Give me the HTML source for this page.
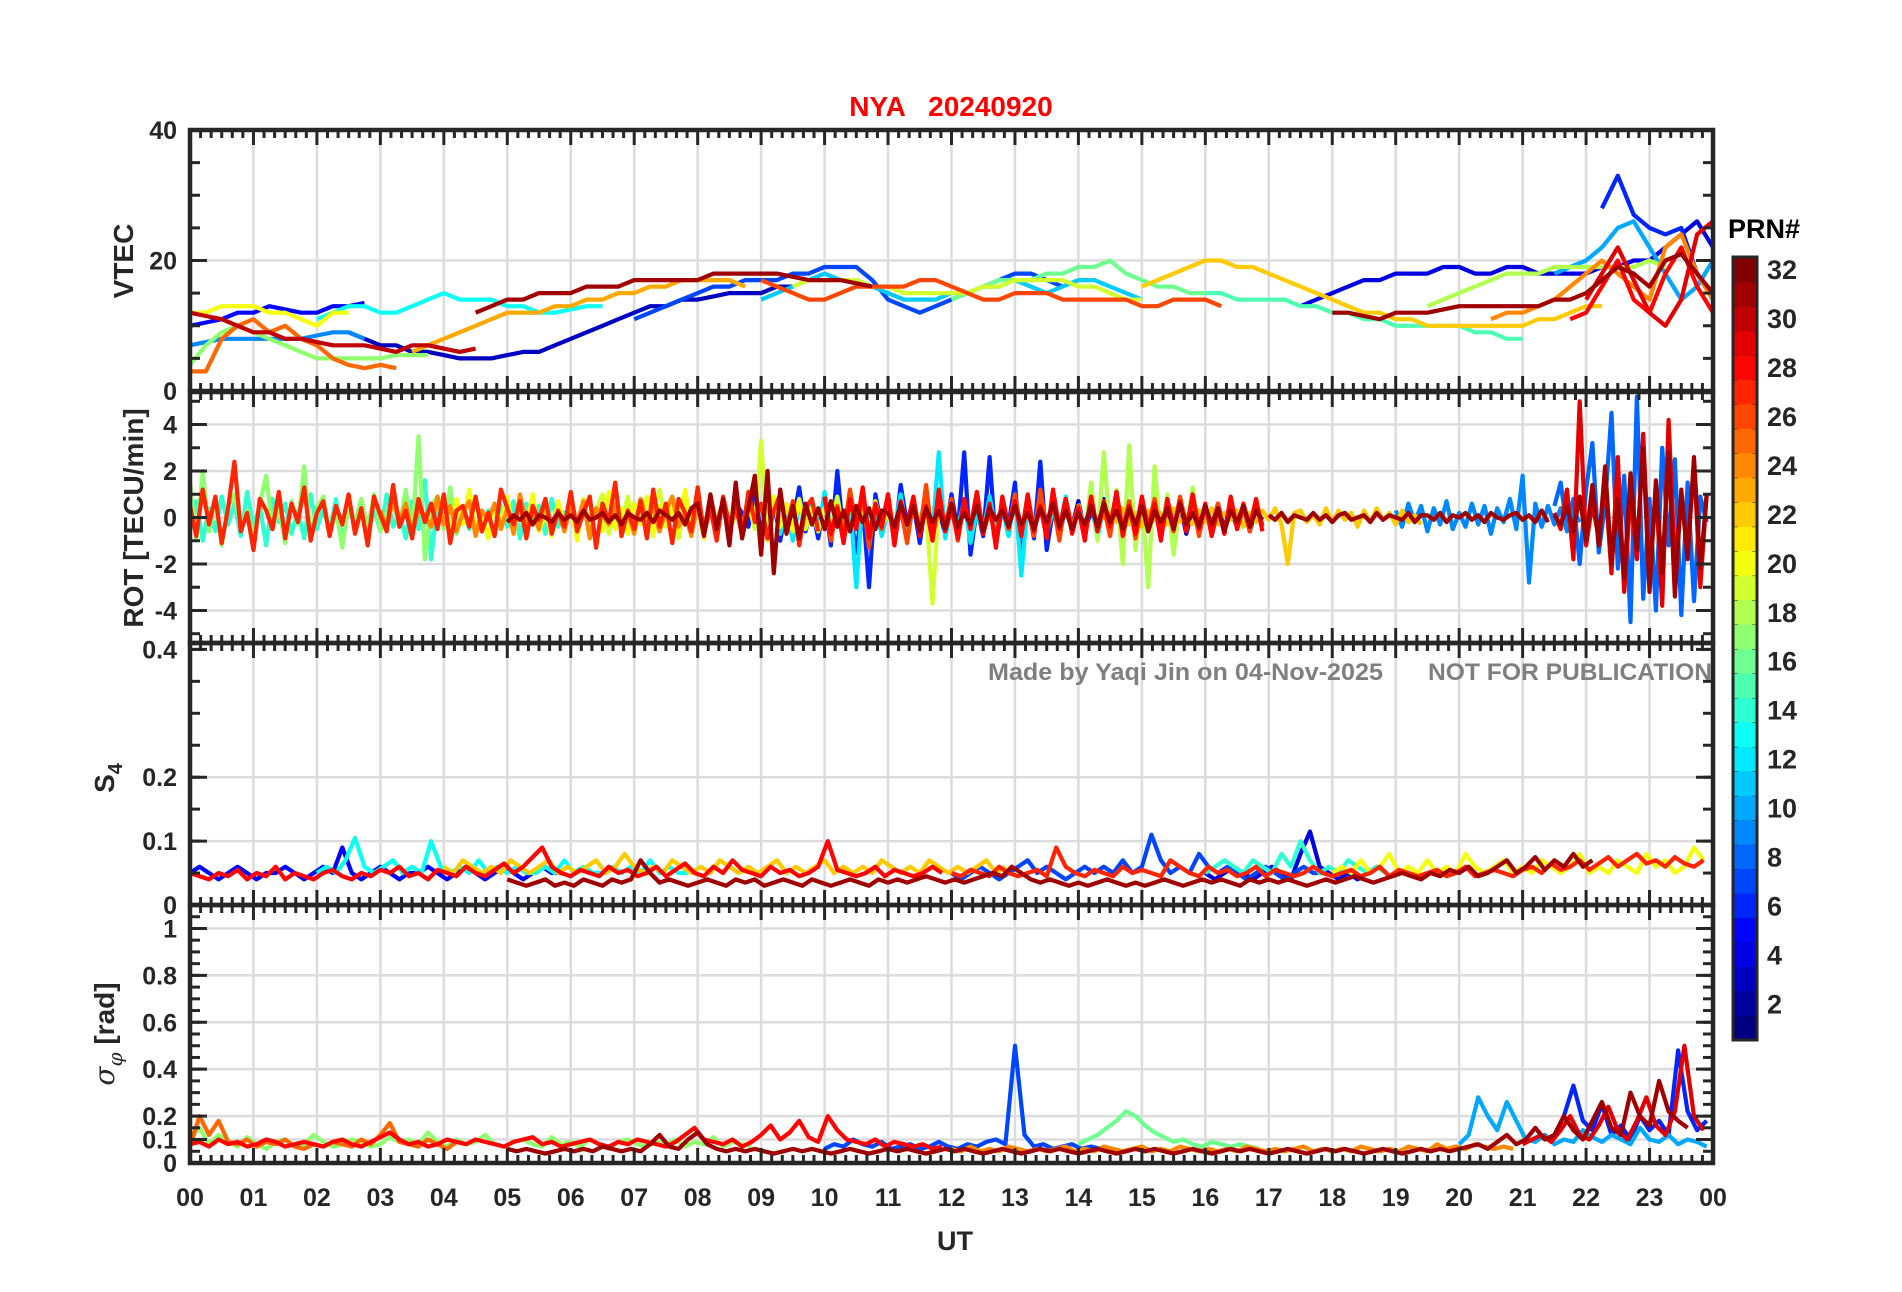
<!DOCTYPE html>
<html><head><meta charset="utf-8"><style>
html,body{margin:0;padding:0;background:#fff;}
svg{display:block;font-family:"Liberation Sans",sans-serif;}
</style></head><body>
<svg id="chart" width="1902" height="1292" viewBox="0 0 1902 1292" xmlns="http://www.w3.org/2000/svg">
<text x="951" y="116" text-anchor="middle" font-size="28" font-weight="bold" fill="#ff0000" xml:space="preserve">NYA   20240920</text>
<g id="layers"></g>
<text x="988" y="680" font-size="24" font-weight="bold" fill="#7f7f7f" textLength="395" lengthAdjust="spacingAndGlyphs">Made by Yaqi Jin on 04-Nov-2025</text>
<text x="1428" y="680" font-size="24" font-weight="bold" fill="#7f7f7f" textLength="284" lengthAdjust="spacingAndGlyphs">NOT FOR PUBLICATION</text>
</svg>
<script>
// ---- time axis ----
const hourLabels = ["00","01","02","03","04","05","06","07","08","09","10","11","12","13","14","15","16","17","18","19","20","21","22","23","00"];
const prnTicks = [2,4,6,8,10,12,14,16,18,20,22,24,26,28,30,32];
// ---- VTEC (step 0.25 h) ----
const vtecPrn = [30,17,5,9,20,25,13,3,23,31,7,11,19,16,26,22,15,4,18,31,10,6,28,29,24];
const vtecStart = [0,0,0,0,0,0,2,2.5,3.5,4.5,7,9,9.5,12,9,15,16,17.5,19.5,18,21.5,22.25,21.75,22,20.5];
const vtecVals = [
[12,11.5,11,10,9,9,8,8,7.5,7,7,7,6.5,6,7,7,6.5,6,6.5],
[4,7,9,10,9,8,7,6,5,5,5,5,5,5.5,5.5,5.5],
[10,10.5,11,12,12,13,12.5,12,12,13,13,13.5],
[7,7.5,8,8,8,8,8,8,8.5,9,9,8],
[12,12,13,13,13,12,12,11,10,12,12],
[3,3,8,10,11,9,10,8,7,5,4,3.5,4,3.5],
[11,12,13,13,12,12,13,14,15,14,14,14,13,13,12,12,12.5,13,13],
[9,8,7,7,6,6,5.5,5,5,5,5.5,6,6,7,8,9,10,11,12,13,13,14,14,14.5,15,15,15,16,16],
[6,7,8,9,10,11,12,12,12,13,13,14,14,15,15,16,16,17,17,17,17,16],
[12,13,14,14,15,15,15,16,16,16,17,17,17,17,17,18,18,18,18,18,17.5,17,17,17,16.5,16],
[11,12,13,14,15,16,16,17,17,17,18,18,19,19,19,17,14,13,12,13,14,15,16,17,18,18,17,16],
[14,15,16,17,18,17,17,16,15,14,14,14,15,15,16,16,17,16,15,16,17,17,16,15,14],
[16,17,17,17,17,16,16,15,15,15,15,15,16,16,17,17,17,17,16,16,15,14,14],
[14,15,16,17,17,17,18,18,19,19,20,18,17,16,16,15,15],
[17,16,15,14,14,15,16,16,16,16,17,17,16,15,14,14,15,15,15,14,14,14,14,14,13,13,14,14,14,13],
[16,17,18,19,20,20,19,19,18,17,16,15,14,13,12,12,11,11,10,10,10,10,10,10,10,11,11,12,13,13],
[15,15,14,14,14,14,13,13,12,12,11,11,10,10,10,10,10,9,9,8,8],
[13,14,15,16,17,17,18,18,18,19,19,18,18,19,19,18,18,18,18,19,19,20,20,22,24,26,22,20],
[13,14,15,16,17,18,18,18,19,19,19,19,19,19,20,19],
[12,12,11.5,11,12,12,12,12.5,13,13,13,13,13,13,14,14,15,17,19,18,16,20,21,18,15,13,12,12.5,13,13,12,11,12],
[18,19,20,22,25,26,22,18,14,16,20,26,30,28,20,18],
[28,33,27,25,24,25,18,14],
[11,12,16,20,14,12,18,22,16,12,11,14,12],
[14,18,22,17,12,10,14,24,26,16,12,10,13],
[11,12,12,13,14,16,18,20,18,16,14,22,24,18,14,12,10,9]
];
// ---- ROT (step 0.1 h) ----
const rotPrn = [17,19,24,6,12,18,9,22,26,27,31,31,8,29,31,20,14,28,3];
const rotStart = [0,6,3,8,9,14,19,14.5,10,0,5,17,21.5,21.5,21.5,4,0,10,13];
const rotVals = [
[1.5,-1.0,2.0,-0.6,0.8,-1.2,0.5,1.0,-0.4,0.3,-0.9,0.6,1.8,-0.5,0.4,-1.1,0.7,-0.3,2.2,-0.8,0.4,0.9,-0.7,0.3,-1.3,0.6,-0.2,0.8,-0.5,1.0,-0.6,0.2,0.7,-0.4,1.2,-0.9,3.5,-1.8,0.5,0.9,-0.5,1.3,-0.7,0.4,-0.3],
[0.5,-0.4,0.8,-0.6,0.3,1.0,-0.7,0.4,-0.2,0.9,-0.5,0.6,-0.8,0.3,1.2,-0.4,0.5,-0.9,0.7,-0.3,0.4,-0.6,0.9,-0.2,0.5,-0.7,0.3,-0.4,0.6,-0.5,3.3,-1.0,0.5,-0.3,0.6,-0.4,0.8,-0.5,0.2,-0.6,0.4,-0.3,0.9,-0.7,0.5,-0.2,0.3,-0.5,0.7,-0.4,0.2,-0.6,0.5,-0.3,0.8,-0.5,0.4,-3.7,0.6,-0.2],
[0.3,-0.5,0.8,-0.2,0.6,-0.7,0.4,0.1,-0.4,0.9,-0.3,0.5,-0.6,0.2,0.7,-0.8,0.3,-0.1,0.6,-0.5,0.4,-0.7,1.0,-0.3,0.2,-0.5,0.8,-0.4,0.3,-0.6,0.5,-0.2,0.7,-0.9,0.4,0.1,-0.3,0.6,-0.5,0.2,-0.7,0.8,-0.1,0.4,-0.6,0.3,0.9,-0.4,0.2,-0.8,0.6,-0.3,0.5,-0.2,0.7,-0.6,0.3,-0.4,0.8,-0.1],
[0.4,-0.6,0.9,-0.3,0.5,-0.8,0.6,0.2,-0.4,1.1,-0.7,0.3,0.8,-1.0,0.5,-0.2,1.3,-0.6,0.4,-0.9,0.7,-1.2,2.0,-0.8,0.3,-1.5,0.6,-3.0,1.0,-0.4,0.5,-0.9,1.4,-0.3,0.6,-1.1,0.8,-0.5,0.3,-0.7,1.0,-0.6,2.8,-1.6,0.4,-0.8,2.6,-1.2,0.5,-0.3,1.5,-2.0,0.6,-0.9,2.4,-1.4,0.3,-0.6,0.8,-0.5],
[0.6,-0.4,0.9,-0.7,0.3,-1.0,0.5,-0.3,0.8,-0.6,1.1,-0.5,0.4,-0.9,0.7,-3.0,0.9,-0.4,0.6,-0.8,0.3,-0.5,1.0,-0.7,0.4,-0.3,0.8,-0.6,2.8,-0.9,0.5,-0.4,0.7,-1.1,0.3,-0.6,0.9,-0.5,0.4,-0.8,1.0,-2.5,0.6,-0.4,0.8,-0.7,0.3,-0.5,0.9,-0.6,0.4,-0.3,0.7,-0.9,0.5,-0.4,0.6,-0.8,0.3,-0.5,0.8,-0.6,0.4,-0.7,0.5,-0.3,0.6,-0.4,0.3,-0.5],
[0.6,-0.8,1.5,-1.0,2.8,-0.6,1.2,-2.0,3.1,-1.4,0.8,-3.0,2.2,-0.9,1.0,-1.6,0.7,-0.5,1.3,-0.8],
[0.3,-0.4,0.6,-0.2,0.5,-0.6,0.4,-0.3,0.7,-0.5,0.2,-0.4,0.6,-0.3,0.5,-0.7,0.4,-0.2,0.8,-0.5,1.8,-2.8,0.6,-0.4,0.5,-0.3,0.4,-0.6,0.3,-0.2],
[0.3,-0.2,0.4,-0.3,0.2,-0.4,0.3,-0.1,0.2,-0.3,0.4,-0.2,0.1,-0.3,0.3,-0.2,0.4,-0.3,0.2,-0.1,0.3,-0.4,0.2,-0.2,0.3,-0.1,0.4,-0.3,-2.0,0.2,0.3,-0.2,0.1,-0.3,0.4,-0.2,0.3,-0.1,0.2,-0.4,0.3,-0.2,0.4,-0.1,0.2,-0.3,0.3,-0.2,0.1,-0.3],
[0.8,-1.0,0.5,-0.7,1.2,-0.4,0.9,-1.3,0.6,-0.5,1.0,-0.8,0.4,-1.1,0.7,-0.6,1.4,-0.9,0.5,-0.3,0.8,-1.0,0.6,-0.4,1.1,-0.7,0.3,-0.9,0.7,-0.5,1.0,-0.6,0.4,-0.8,1.2,-0.5,0.6,-1.0,0.8,-0.4,0.5,-0.7,0.9,-0.6,0.4,-0.8,1.1,-0.5,0.7,-0.9,0.6,-0.4,0.8,-0.7,0.5,-0.6,0.9,-0.3,0.7,-0.8,0.5,-0.4,0.6,-0.7,0.8,-0.5,0.4,-0.6,0.7,-0.4],
[0.5,-0.8,1.2,-0.3,0.9,-1.1,0.4,2.4,-0.6,0.2,-1.4,0.8,0.3,-0.5,1.1,-0.9,0.6,-0.2,1.3,-1.0,0.2,0.7,-0.8,0.5,-0.3,1.0,-0.7,0.4,-1.2,0.9,0.1,-0.6,1.4,-0.4,0.3,-0.9,0.8,-0.2,0.6,-0.5,1.0,-1.1,0.3,0.5,-0.4,0.9,-0.6,0.2,-0.8,1.2,0.4,-0.3,0.7,-0.9,0.5,-0.1,0.8,-0.7,0.3,-0.4,1.1,-0.6,0.2,0.9,-1.3,0.6,-0.2,1.5,-0.8,0.3,-0.5,0.7,-0.9,1.2,-0.4,0.6,-1.1,0.8,0.2,-0.6,1.3,-0.7,0.4,-1.0,0.9,-0.3,0.5,-0.8,1.1,-0.2,0.6,-0.9,0.3,1.0,-0.5,0.7,-1.2,0.4,0.8,-0.6],
[-0.2,0.1,-0.1,0.2,-0.3,0.1,0.0,-0.2,0.2,-0.1,0.1,-0.2,0.3,-0.1,0.0,0.2,-0.2,0.1,-0.3,0.2,0.0,-0.1,0.2,-0.2,0.3,0.1,-0.1,0.2,-0.3,0.4,0.6,-0.8,1.0,-0.5,0.8,-1.2,1.5,-0.9,0.4,1.8,-1.6,2.0,-2.4,1.2,-0.7,0.5,-0.9,0.6,-0.3,0.4,-0.5,0.7,-0.4,0.3,-0.6,0.5,-0.2,0.4,-0.5,0.3,0.2,-0.4,0.6,-0.3,0.5,-0.6,0.4,-0.2,0.3,-0.5,0.6,-0.4,0.2,-0.3,0.5,-0.6,0.4,-0.1,0.3,-0.4,0.5,-0.3,0.2,-0.5,0.4,-0.2,0.6,-0.4,0.3,-0.5,0.2,-0.3,0.5,-0.4,0.6,-0.2,0.3,-0.5,0.4,-0.3,0.5,-0.6,0.3,-0.2,0.4,-0.5,0.6,-0.3,0.2,-0.4,0.5,-0.3,0.4,-0.6,0.3,-0.2,0.5,-0.4,0.3,-0.1],
[0.1,-0.1,0.2,-0.2,0.1,0.0,-0.1,0.2,-0.1,0.1,-0.2,0.1,0.2,-0.1,0.0,0.1,-0.2,0.2,-0.1,0.1,0.0,-0.1,0.2,-0.2,0.1,0.1,-0.1,0.2,-0.2,0.1,0.0,0.2,-0.1,0.1,-0.2,0.2,0.0,-0.1,0.1,0.2,-0.1,0.1,-0.2,0.3,-0.2],
[0.5,1.5,-0.5,0.8,-2.0,1.2,3.2,-1.5,0.6,4.5,-2.2,1.8,-4.5,5.2,-3.5,0.8,-4.0,3.0,-1.2,2.5,-4.2,1.5,-3.6,0.9,-0.2],
[0.2,-0.5,1.2,-1.8,5.0,-1.2,0.6,-0.9,1.5,-2.4,2.6,-3.2,1.0,-1.8,3.6,-2.6,1.3,-3.8,4.2,-2.0,0.8,-1.5,2.4,-3.0,1.0],
[0.1,-0.3,0.5,-0.6,0.9,-1.0,1.4,-1.2,2.2,-2.0,0.8,-2.6,1.9,-1.4,3.0,-3.2,1.6,-2.4,2.8,-3.4,1.2,-1.8,2.6,-2.2,1.0],
[0.4,-0.6,0.8,-0.3,1.2,-0.5,0.3,-0.9,0.6,-0.2,0.9,-0.7,0.5,-0.4,1.0,-0.6,0.2,-0.8,0.7,-0.3,0.5,-1.0,0.8,-0.4,0.3,-0.6,1.1,-0.5,0.4,-0.7,0.6,-0.3,0.9,-0.8,0.5,-0.2,0.7,-0.6,1.2,-0.4,0.3,-0.9,0.8,-0.5,0.6,-0.3,1.0,-0.7,0.4,-0.2,0.6,-0.8,0.9,-0.4,0.5,-0.6,0.7,-0.3,0.4,-0.5],
[-0.5,0.7,-1.0,0.4,-0.6,0.9,-0.3,0.6,-0.8,1.1,-0.4,0.5,-1.2,0.8,-0.2,0.6,-0.7,0.3,-0.9,1.0,-0.5,0.4,-0.6,0.8,-1.1,0.5,-0.3,0.7,-0.8,0.4,-0.6,1.0,-0.4,0.2,-0.9,0.7,-0.5,1.6,-1.8,0.6,-0.3,0.8,-0.7,0.4,-0.5,0.9,-0.6,0.3,-0.8,0.5,-0.4,0.7,-0.9,0.6,-0.2,0.5,-0.7,0.8,-0.4,0.3],
[0.9,-0.7,0.4,-1.1,0.8,-0.5,1.3,-0.9,0.6,-0.4,1.0,-1.2,0.7,-0.3,0.9,-0.8,0.5,-1.0,1.2,-0.6,0.4,-0.9,0.8,-0.5,1.1,-0.7,0.6,-1.3,0.9,-0.4,0.7,-0.8,1.0,-0.6,0.5,-0.9,1.2,-0.5,0.8,-0.7,0.4,-1.0,0.9,-0.6,0.7,-0.4,1.1,-0.8,0.5,-0.7,0.9,-0.5,0.6,-1.0,0.8,-0.4,0.7,-0.6,1.0,-0.5,0.6,-0.8,0.4,-0.7,0.9,-0.5,0.6,-0.4,0.8,-0.6],
[0.5,-0.7,0.4,-0.6,0.9,-0.3,0.6,-0.8,0.5,-0.4,0.7,-0.6,0.3,-0.5,0.8,-0.4,0.6,-0.7,0.4,-0.3,0.5,-0.6,0.7,-0.4,0.3,-0.5,0.6,-0.7,0.4,-0.3,0.5,-0.4,0.6,-0.5,0.3,-0.4,0.5,-0.6,0.4,-0.3]
];
// ---- S4 (step 0.15 h) ----
const s4Prn = [5,13,20,14,4,7,22,28,27,31];
const s4Start = [0,2,18,16,16,12,4,0,12,5];
const s4Vals = [
[0.05,0.06,0.05,0.04,0.05,0.06,0.05,0.04,0.05,0.05,0.06,0.05,0.04,0.05,0.06,0.05,0.09,0.05,0.04,0.05,0.06,0.05,0.04,0.05,0.05,0.06,0.05,0.04,0.05,0.06,0.05,0.04,0.05,0.06,0.05,0.04,0.05,0.06,0.05,0.05],
[0.05,0.06,0.05,0.07,0.105,0.06,0.05,0.06,0.07,0.05,0.06,0.05,0.1,0.06,0.05,0.06,0.05,0.07,0.05,0.06,0.05,0.06,0.05,0.05,0.06,0.05,0.07,0.05,0.06,0.05,0.05,0.06,0.05,0.06,0.05,0.07,0.05,0.06,0.05,0.05],
[0.05,0.06,0.05,0.07,0.05,0.06,0.08,0.05,0.06,0.05,0.07,0.05,0.06,0.05,0.08,0.06,0.05,0.06,0.07,0.05,0.06,0.05,0.07,0.06,0.05,0.06,0.08,0.05,0.06,0.05,0.07,0.06,0.05,0.08,0.06,0.07,0.05,0.06,0.09,0.07],
[0.05,0.06,0.07,0.06,0.05,0.07,0.06,0.05,0.08,0.06,0.1,0.07,0.05,0.06,0.05,0.07,0.06,0.05,0.06,0.05],
[0.05,0.04,0.05,0.06,0.05,0.04,0.05,0.06,0.05,0.04,0.08,0.115,0.06,0.05,0.04,0.05,0.04,0.05,0.06,0.05],
[0.05,0.04,0.05,0.06,0.05,0.04,0.05,0.06,0.07,0.05,0.06,0.05,0.04,0.05,0.06,0.05,0.06,0.05,0.07,0.05,0.06,0.11,0.07,0.05,0.06,0.05,0.08,0.06,0.05,0.06,0.05,0.04,0.05,0.06,0.05,0.04,0.05,0.06,0.05,0.05],
[0.06,0.05,0.07,0.06,0.05,0.06,0.05,0.07,0.06,0.05,0.06,0.07,0.05,0.06,0.05,0.06,0.07,0.05,0.06,0.08,0.06,0.05,0.06,0.05,0.07,0.06,0.05,0.06,0.05,0.07,0.06,0.05,0.06,0.05,0.06,0.07,0.05,0.06,0.05,0.06,0.07,0.05,0.06,0.05,0.06,0.05,0.07,0.06,0.05,0.06,0.05,0.07,0.06,0.05,0.06,0.05,0.06,0.07,0.05,0.06],
[0.05,0.045,0.04,0.05,0.045,0.055,0.04,0.05,0.045,0.06,0.04,0.05,0.045,0.04,0.05,0.055,0.045,0.04,0.05,0.045,0.055,0.05,0.06,0.045,0.05,0.04,0.055,0.05,0.045,0.06,0.05,0.045,0.055,0.065,0.05,0.06,0.075,0.09,0.06,0.05,0.045,0.055,0.05,0.045,0.06,0.05,0.055,0.045,0.05,0.06,0.045,0.055,0.065,0.05,0.045,0.06,0.05,0.07,0.055,0.05,0.045,0.06,0.05,0.055,0.045,0.05,0.06,0.1,0.055,0.05,0.045,0.05,0.06,0.045,0.055,0.05,0.045,0.05,0.06,0.05],
[0.05,0.045,0.055,0.05,0.045,0.06,0.05,0.045,0.05,0.055,0.045,0.09,0.06,0.05,0.045,0.055,0.05,0.045,0.06,0.05,0.055,0.05,0.045,0.07,0.06,0.05,0.045,0.06,0.05,0.055,0.045,0.05,0.06,0.045,0.055,0.05,0.045,0.05,0.06,0.05,0.045,0.05,0.055,0.045,0.05,0.06,0.045,0.055,0.05,0.045,0.05,0.055,0.045,0.05,0.06,0.045,0.05,0.055,0.05,0.045,0.055,0.06,0.05,0.065,0.055,0.06,0.07,0.055,0.065,0.075,0.06,0.07,0.08,0.065,0.07,0.06,0.075,0.065,0.06,0.07],
[0.04,0.035,0.03,0.035,0.04,0.03,0.035,0.03,0.04,0.035,0.03,0.04,0.035,0.04,0.07,0.05,0.035,0.04,0.035,0.03,0.035,0.04,0.035,0.03,0.04,0.035,0.04,0.03,0.035,0.04,0.035,0.03,0.04,0.035,0.03,0.035,0.04,0.035,0.03,0.04,0.035,0.04,0.035,0.04,0.045,0.04,0.035,0.04,0.035,0.04,0.045,0.05,0.045,0.06,0.05,0.04,0.035,0.04,0.035,0.03,0.035,0.03,0.035,0.04,0.035,0.03,0.035,0.03,0.035,0.04,0.035,0.03,0.035,0.04,0.035,0.04,0.035,0.03,0.04,0.035,0.04,0.035,0.04,0.035,0.03,0.035,0.04,0.035,0.04,0.045,0.04,0.035,0.04,0.045,0.05,0.045,0.04,0.05,0.045,0.055,0.05,0.06,0.045,0.05,0.06,0.07,0.05,0.06,0.075,0.055,0.07,0.06,0.08,0.06,0.07]
];
// ---- sigma phi (step 0.15 h) ----
const sigPrn = [17,25,7,16,10,6,24,28,29,31];
const sigStart = [0,0,10,14,20,21.5,12,0,21,5];
const sigVals = [
[0.1,0.15,0.08,0.12,0.09,0.07,0.11,0.08,0.06,0.09,0.1,0.07,0.08,0.12,0.09,0.07,0.08,0.1,0.09,0.07,0.08,0.11,0.09,0.1,0.08,0.13,0.09,0.07,0.1,0.08,0.09,0.12,0.08,0.07,0.09,0.1,0.08,0.07,0.11,0.08,0.09,0.07,0.1,0.08,0.06,0.09,0.1,0.08,0.07,0.09,0.08,0.1,0.07,0.09,0.08,0.11,0.07,0.09,0.08,0.07],
[0.07,0.2,0.12,0.18,0.09,0.08,0.1,0.07,0.09,0.08,0.1,0.07,0.06,0.08,0.07,0.09,0.08,0.07,0.1,0.08,0.12,0.17,0.09,0.08,0.07,0.1,0.08,0.06,0.09,0.08],
[0.06,0.08,0.07,0.1,0.08,0.07,0.09,0.06,0.07,0.08,0.06,0.07,0.09,0.07,0.06,0.08,0.07,0.09,0.1,0.08,0.5,0.12,0.07,0.08,0.06,0.07,0.08,0.06,0.07,0.06],
[0.08,0.1,0.12,0.15,0.18,0.22,0.2,0.16,0.13,0.11,0.09,0.1,0.08,0.07,0.09,0.08,0.07,0.08,0.07,0.06],
[0.08,0.12,0.28,0.2,0.14,0.26,0.18,0.1,0.09,0.12,0.08,0.1,0.09,0.14,0.11,0.09,0.12,0.1,0.08,0.15,0.1,0.09,0.12,0.08,0.1,0.09,0.07],
[0.12,0.2,0.33,0.18,0.14,0.25,0.12,0.16,0.1,0.2,0.14,0.18,0.12,0.48,0.22,0.14,0.18],
[0.06,0.05,0.07,0.05,0.06,0.05,0.07,0.06,0.05,0.06,0.05,0.06,0.07,0.05,0.06,0.05,0.07,0.06,0.05,0.06,0.07,0.05,0.06,0.05,0.07,0.06,0.05,0.06,0.05,0.06,0.05,0.07,0.06,0.05,0.06,0.05,0.06,0.07,0.05,0.06,0.05,0.06,0.05,0.07,0.06,0.05,0.06,0.05,0.07,0.06,0.05,0.08,0.06,0.07,0.06,0.08,0.07,0.06,0.07,0.06],
[0.08,0.09,0.07,0.1,0.08,0.09,0.07,0.08,0.1,0.09,0.07,0.08,0.09,0.08,0.07,0.09,0.1,0.08,0.07,0.09,0.11,0.13,0.1,0.08,0.09,0.07,0.08,0.1,0.09,0.08,0.1,0.09,0.08,0.07,0.09,0.1,0.11,0.08,0.09,0.07,0.08,0.09,0.1,0.08,0.07,0.09,0.08,0.1,0.09,0.08,0.07,0.09,0.12,0.15,0.1,0.09,0.08,0.1,0.07,0.09,0.12,0.16,0.1,0.13,0.18,0.11,0.09,0.2,0.14,0.1,0.09,0.08,0.1,0.07,0.09,0.08,0.07,0.08,0.06,0.07],
[0.08,0.1,0.12,0.09,0.14,0.2,0.12,0.1,0.16,0.24,0.14,0.1,0.18,0.28,0.16,0.12,0.22,0.5,0.2,0.14],
[0.06,0.05,0.06,0.05,0.04,0.05,0.06,0.05,0.06,0.05,0.07,0.06,0.05,0.06,0.05,0.08,0.12,0.07,0.06,0.1,0.13,0.08,0.06,0.05,0.06,0.05,0.06,0.05,0.04,0.05,0.06,0.05,0.06,0.05,0.04,0.05,0.06,0.05,0.04,0.05,0.06,0.05,0.06,0.05,0.04,0.05,0.06,0.05,0.06,0.05,0.04,0.05,0.06,0.05,0.04,0.05,0.06,0.05,0.06,0.05,0.04,0.05,0.06,0.05,0.04,0.05,0.06,0.05,0.06,0.05,0.04,0.05,0.06,0.05,0.04,0.05,0.06,0.05,0.06,0.05,0.04,0.05,0.06,0.05,0.04,0.05,0.06,0.05,0.06,0.05,0.04,0.05,0.06,0.05,0.04,0.05,0.06,0.05,0.06,0.05,0.06,0.07,0.08,0.06,0.09,0.12,0.08,0.1,0.15,0.1,0.12,0.2,0.14,0.1,0.18,0.26,0.15,0.12,0.3,0.2,0.16,0.35,0.22,0.18,0.15]
];

const NS = "http://www.w3.org/2000/svg";
const svg = document.getElementById("chart");
const layers = document.getElementById("layers");
const X0 = 190, X1 = 1713;
function xScale(t){ return X0 + t * (X1 - X0) / 24; }
const panels = [
 {name:"vtec", top:130, bottom:391, min:0, max:40, major:[0,20,40], labels:["0","20","40"], labelPos:[0,20,40], grid:[20], minorStep:5},
 {name:"rot", top:392, bottom:643, min:-5.4, max:5.4, major:[-4,-2,0,2,4], labels:["-4","-2","0","2","4"], labelPos:[-4,-2,0,2,4], grid:[-4,-2,0,2,4], minorStep:1},
 {name:"s4", top:643, bottom:905, min:0, max:0.41, major:[0,0.1,0.2,0.4], labels:["0","0.1","0.2","0.4"], labelPos:[0,0.1,0.2,0.4], grid:[0.1,0.2], minorStep:0.05},
 {name:"sigma", top:905, bottom:1163, min:0, max:1.1, major:[0,0.1,0.2,0.4,0.6,0.8,1], labels:["0","0.1","0.2","0.4","0.6","0.8","1"], labelPos:[0,0.1,0.2,0.4,0.6,0.8,1], grid:[0.1,0.2,0.4,0.6,0.8,1], minorStep:0.05}
];
function yScale(p,v){ return p.bottom - (v - p.min) * (p.bottom - p.top) / (p.max - p.min); }
function jet(i){ const v = (i-1)/31; const r=Math.max(0,Math.min(1,1.5-Math.abs(4*v-3))); const g=Math.max(0,Math.min(1,1.5-Math.abs(4*v-2))); const b=Math.max(0,Math.min(1,1.5-Math.abs(4*v-1))); return `rgb(${Math.round(r*255)},${Math.round(g*255)},${Math.round(b*255)})`; }
function mk(tag, attrs, parent){ const e=document.createElementNS(NS,tag); for(const k in attrs) e.setAttribute(k,attrs[k]); (parent||layers).appendChild(e); return e; }

const defs = mk("defs",{});
panels.forEach((p,i)=>{ const cp=mk("clipPath",{id:"clip"+i},defs); mk("rect",{x:X0,y:p.top,width:X1-X0,height:p.bottom-p.top},cp); });

panels.forEach(p=>{
  const g = mk("g",{});
  
  
  for(let h=1;h<24;h++) mk("line",{x1:xScale(h),x2:xScale(h),y1:p.top,y2:p.bottom,stroke:"#dcdcdc","stroke-width":2.5},g);
  p.grid.forEach(v=>mk("line",{x1:X0,x2:X1,y1:yScale(p,v),y2:yScale(p,v),stroke:"#dcdcdc","stroke-width":2.5},g));
});

function drawSeries(pi, prns, starts, step, vals, label){
  const p = panels[pi];
  const g = mk("g",{"clip-path":`url(#clip${pi})`});
  
  
  const order = prns.map((v,i)=>i).sort((a,b)=>prns[a]-prns[b]);
  order.forEach(i=>{
    const pts = vals[i].map((v,k)=>{ const t=starts[i]+k*step; return t<=24 ? xScale(t).toFixed(1)+","+yScale(p,v).toFixed(1) : null; }).filter(s=>s);
    const pl = mk("polyline",{points:pts.join(" "),fill:"none",stroke:jet(prns[i]),"stroke-width":4.2,"stroke-linejoin":"round"},g);
    
    
  });
}
drawSeries(0, vtecPrn, vtecStart, 0.25, vtecVals, "vtec");
drawSeries(1, rotPrn, rotStart, 0.1, rotVals, "rot");
drawSeries(2, s4Prn, s4Start, 0.15, s4Vals, "s4");
drawSeries(3, sigPrn, sigStart, 0.15, sigVals, "sigma");

const ink = "#262626";
panels.forEach(p=>{
  const g = mk("g",{});
  
  
  for(let m=0;m<=144;m++){
    const x=xScale(m/6); const len = m%6===0?15:8;
    mk("line",{x1:x,x2:x,y1:p.top,y2:p.top+len,stroke:ink,"stroke-width":3},g);
    mk("line",{x1:x,x2:x,y1:p.bottom,y2:p.bottom-len,stroke:ink,"stroke-width":3},g);
  }
  for(let k=Math.ceil(p.min/p.minorStep);k*p.minorStep<=p.max+1e-9;k++){
    const v=k*p.minorStep; const y=yScale(p,v);
    mk("line",{x1:X0,x2:X0+10,y1:y,y2:y,stroke:ink,"stroke-width":3},g);
    mk("line",{x1:X1,x2:X1-10,y1:y,y2:y,stroke:ink,"stroke-width":3},g);
  }
  p.major.forEach(v=>{ const y=yScale(p,v);
    mk("line",{x1:X0,x2:X0+17,y1:y,y2:y,stroke:ink,"stroke-width":3},g);
    mk("line",{x1:X1,x2:X1-17,y1:y,y2:y,stroke:ink,"stroke-width":3},g);
  });
  mk("rect",{x:X0,y:p.top,width:X1-X0,height:p.bottom-p.top,fill:"none",stroke:ink,"stroke-width":4.5},g);
  p.labels.forEach((l,i)=>{
    const t=mk("text",{x:177,y:yScale(p,p.labelPos[i])+9,"text-anchor":"end","font-size":25,"font-weight":"bold",fill:ink},g);
    t.textContent=l;
    
    
  });
});
hourLabels.forEach((l,h)=>{
  const t=mk("text",{x:xScale(h),y:1206,"text-anchor":"middle","font-size":25,"font-weight":"bold",fill:ink});
  t.textContent=l;
  
  
});
const ut=mk("text",{x:955,y:1250,"text-anchor":"middle","font-size":27,"font-weight":"bold",fill:ink});
ut.textContent="UT";



function yTitle(x,y,html,name){
  const t=mk("text",{x:0,y:0,transform:`translate(${x},${y}) rotate(-90)`,"text-anchor":"middle","font-size":28,"font-weight":"bold",fill:ink});
  t.innerHTML=html;
  
  
}
yTitle(133,261,"VTEC","vtec-axis-title");
yTitle(143,518,"ROT [TECU/min]","rot-axis-title");
yTitle(114,778,'S<tspan font-size="20" dy="8">4</tspan>',"s4-axis-title");
yTitle(114,1034,'<tspan font-style="italic" font-weight="normal" font-family="DejaVu Serif">σ</tspan><tspan font-size="20" dy="8" font-style="italic" font-weight="normal" font-family="DejaVu Serif">φ</tspan><tspan dy="-8"> [rad]</tspan>',"sigma-axis-title");

const CB = {x:1733, w:24, top:257, bottom:1040};
const cbg = mk("g",{});


const bh = (CB.bottom-CB.top)/32;
for(let i=1;i<=32;i++){
  const y = CB.bottom - i*bh;
  mk("rect",{x:CB.x,y:y,width:CB.w,height:bh+0.5,fill:jet(i)},cbg);
  mk("line",{x1:CB.x,x2:CB.x+5,y1:y,y2:y,stroke:ink,"stroke-width":2},cbg);
  mk("line",{x1:CB.x+CB.w,x2:CB.x+CB.w-5,y1:y,y2:y,stroke:ink,"stroke-width":2},cbg);
}
mk("rect",{x:CB.x,y:CB.top,width:CB.w,height:CB.bottom-CB.top,fill:"none",stroke:ink,"stroke-width":3},cbg);
prnTicks.forEach(v=>{
  const y = CB.bottom - (v-0.5)*bh;
  const t=mk("text",{x:1767,y:y+10,"font-size":27,"font-weight":"bold",fill:ink},cbg);
  t.textContent=String(v);
  
  
});
const prnT=mk("text",{x:1728,y:238,"font-size":27,"font-weight":"bold",fill:"#000"});
prnT.textContent="PRN#";


</script>
</body></html>
